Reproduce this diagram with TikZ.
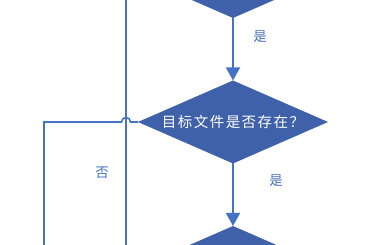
\documentclass[tikz,border=0pt]{standalone}
\usepackage{fontspec}
\newfontfamily\cjk{Noto Sans CJK SC}
\usetikzlibrary{shapes.geometric,arrows.meta}
\definecolor{linkblue}{RGB}{68,114,196}
\definecolor{boxblue}{RGB}{62,97,170}
\tikzset{
  decision/.style={diamond, fill=boxblue, text=white, inner sep=0pt, outer sep=0pt,
    minimum width=190pt, minimum height=83pt, shape aspect=2.3,
    font=\cjk\fontsize{14.5}{16}\selectfont\addfontfeature{LetterSpace=10}},
  link/.style={draw=linkblue, line width=1.6pt},
  flow/.style={link, -{Triangle[width=14pt,length=13pt]}},
  tag/.style={text=linkblue, inner sep=0pt, font=\cjk\fontsize{13.5}{14}\selectfont}
}
\begin{document}
\begin{tikzpicture}[x=1pt,y=1pt]
  \useasboundingbox (0,0) rectangle (380,245);
  \clip (0,0) rectangle (380,245);
  \node[decision] (check) at (233,268.5) {};
  \node[decision] (exists) at (233,123) {目标文件是否存在？};
  \node[decision] (next) at (233,-22.5) {};
  \coordinate (top) at (126,250);
  \coordinate (bot) at (126,-5);
  \coordinate (turn) at (44,123);
  \coordinate (down) at (44,-5);
  \draw[flow] (check) -- (exists);
  \draw[flow] (exists) -- (next);
  \draw[link] (top) -- (bot);
  \draw[link] (exists.west) -- (130.5,123) arc[start angle=0, end angle=180, radius=4.5] -- (turn) -- (down);
  \node[tag] (yes1) at (260,208) {是};
  \node[tag] (yes2) at (276,64) {是};
  \node[tag] (no) at (102,72) {否};
\end{tikzpicture}
\end{document}
